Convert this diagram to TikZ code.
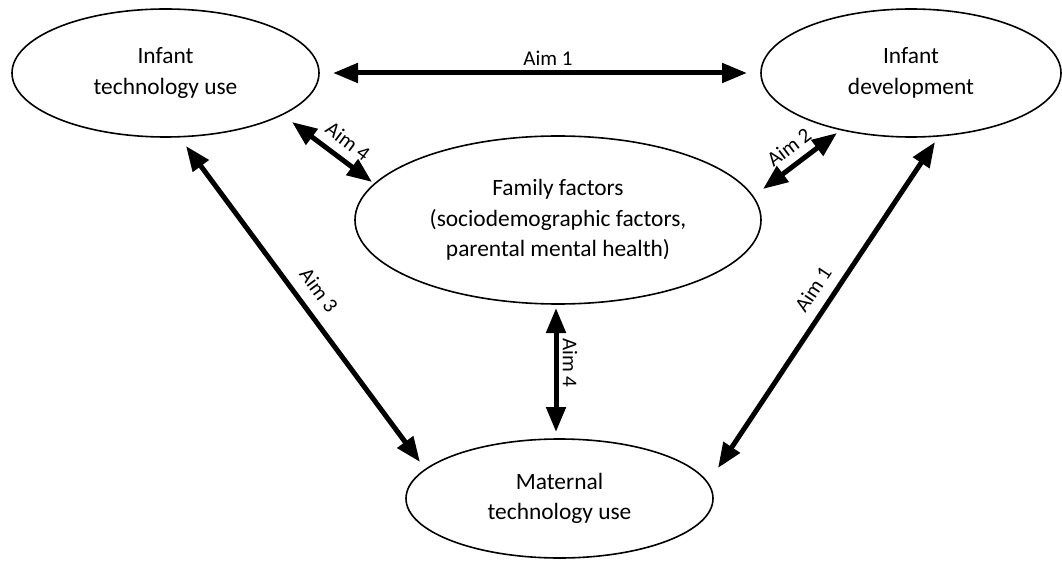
\documentclass[tikz,border=0pt]{standalone}
\usepackage{fontspec}
\setmainfont{Carlito}
\usetikzlibrary{shapes.geometric,arrows.meta}
\begin{document}
\begin{tikzpicture}[x=1pt,y=-1pt,
  blob/.style={draw,ellipse,line width=1.6pt,inner sep=0pt,align=center,
    font=\fontsize{23.4}{30.5}\selectfont},
  link/.style={line width=5pt,{Triangle[length=25pt,width=19pt]}-{Triangle[length=25pt,width=19pt]}},
  lab/.style={font=\fontsize{21}{25}\selectfont,inner sep=0pt}]
\fill[white] (0,0) rectangle (1062,561);
\useasboundingbox (0,0) rectangle (1062,561);

\node[blob,minimum width=307pt,minimum height=128pt] (itu) at (165.5,73) {Infant\\technology use};
\node[blob,minimum width=300pt,minimum height=128pt] (idv) at (911,73) {Infant\\development};
\node[blob,minimum width=406pt,minimum height=168pt] (fam) at (558,220) {Family factors\\(sociodemographic factors,\\parental mental health)};
\node[blob,minimum width=307pt,minimum height=119pt] (mat) at (559.5,498.5) {Maternal\\technology use};

% arrow end points
\coordinate (a1a) at (333,73);
\coordinate (a1b) at (747,73);
\coordinate (a4a) at (292,122);
\coordinate (a4b) at (372,182);
\coordinate (a2a) at (763,189);
\coordinate (a2b) at (837,133);
\coordinate (a3a) at (186,146);
\coordinate (a3b) at (420,462);
\coordinate (a5a) at (935,142);
\coordinate (a5b) at (718,468);
\coordinate (a6a) at (556,308);
\coordinate (a6b) at (556,432);

\draw[link] (a1a) -- (a1b);
\draw[link] (a4a) -- (a4b);
\draw[link] (a2a) -- (a2b);
\draw[link] (a3a) -- (a3b);
\draw[link] (a5a) -- (a5b);
\draw[link] (a6a) -- (a6b);

\node[lab] (l1) at (548,58) {Aim 1};
\node[lab,rotate=-37] (l4a) at (348,141) {Aim 4};
\node[lab,rotate=37] (l2) at (789,147) {Aim 2};
\node[lab,rotate=-53.5] (l3) at (319,290) {Aim 3};
\node[lab,rotate=56.3] (l5) at (813,289) {Aim 1};
\node[lab,rotate=-90] (l6) at (570,363) {Aim 4};
\end{tikzpicture}
\end{document}
